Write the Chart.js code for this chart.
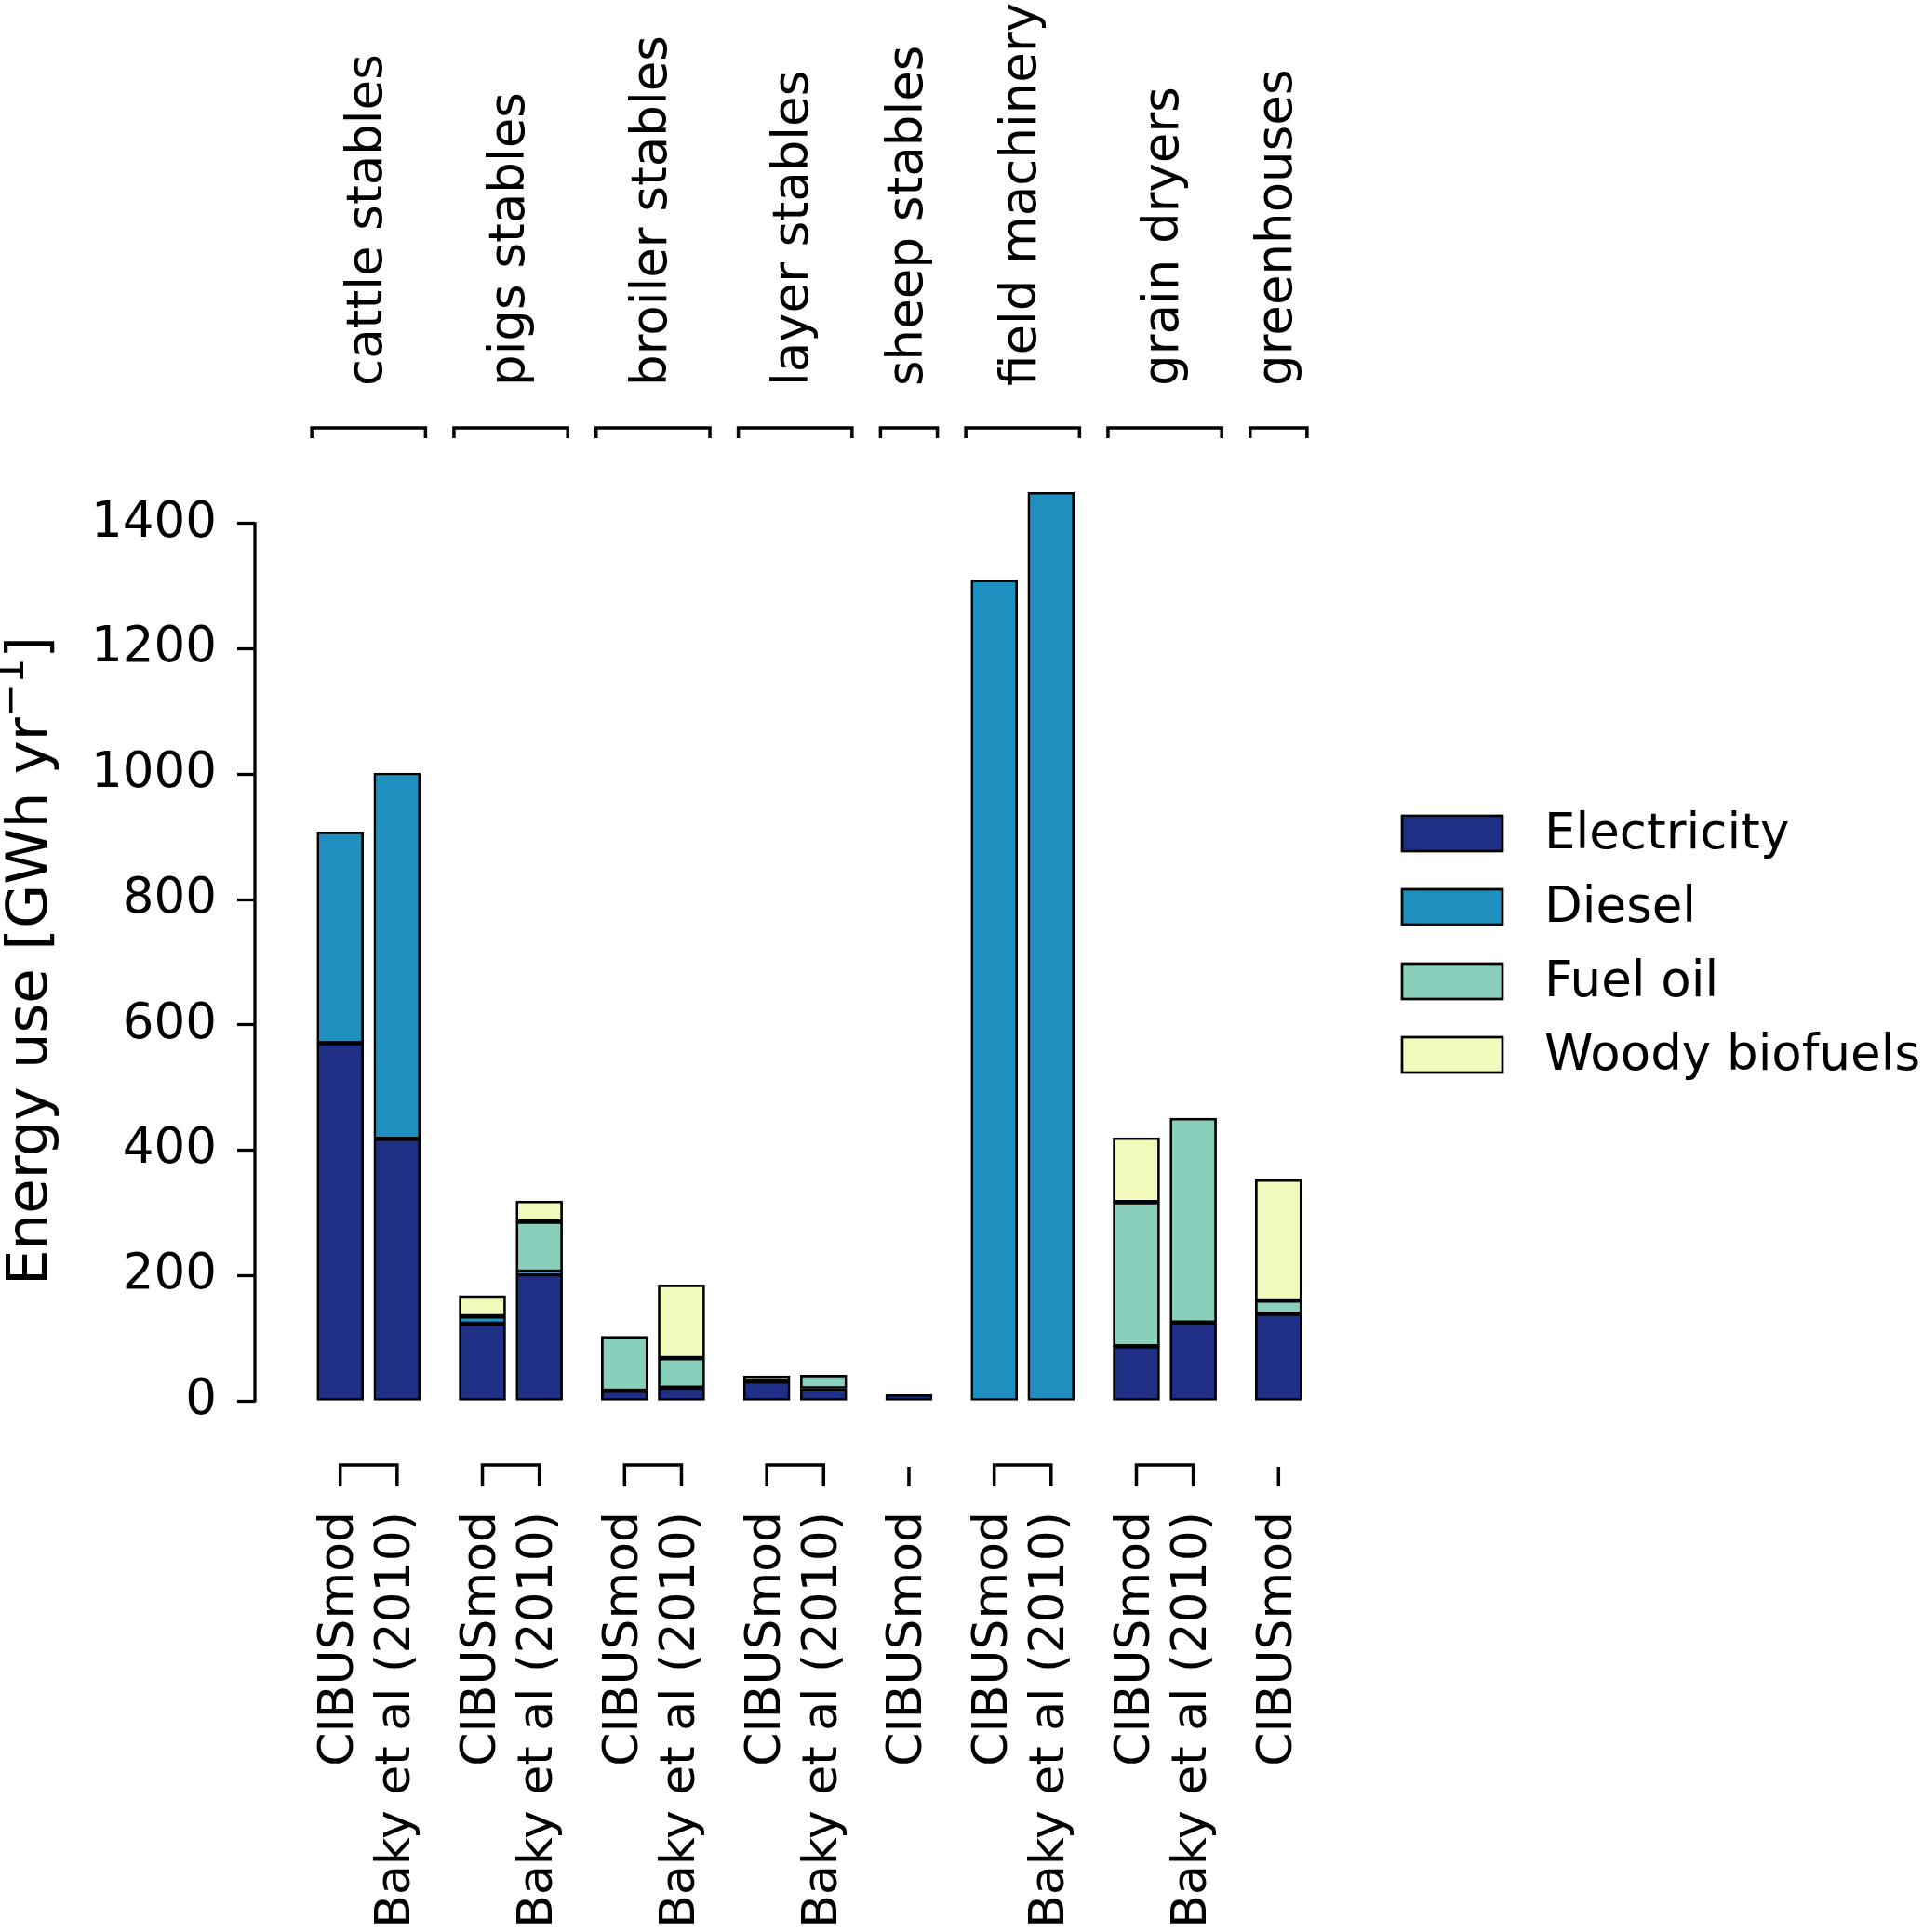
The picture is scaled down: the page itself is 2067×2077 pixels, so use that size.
<!DOCTYPE html>
<html>
<head>
<meta charset="utf-8">
<script src="https://cdn.jsdelivr.net/npm/chart.js@4.4.0/dist/chart.umd.min.js"></script>
<style>
    html, body { margin: 0; padding: 0; background: #ffffff; }
    #wrap { width: 2067px; height: 2077px; position: relative; }
</style>
</head>
<body>
<div id="wrap"><canvas id="energyChart"></canvas></div>
<script>
// categories (top labels)
const groups = ['cattle stables', 'pigs stables', 'broiler stables', 'layer stables',
                'sheep stables', 'field machinery', 'grain dryers', 'greenhouses'];
// which category each bar belongs to, and its source (bottom labels)
const barGroup = [0, 0, 1, 1, 2, 2, 3, 3, 4, 5, 5, 6, 6, 7];
const barSource = ['CIBUSmod', 'Baky et al (2010)', 'CIBUSmod', 'Baky et al (2010)',
                   'CIBUSmod', 'Baky et al (2010)', 'CIBUSmod', 'Baky et al (2010)',
                   'CIBUSmod', 'CIBUSmod', 'Baky et al (2010)', 'CIBUSmod',
                   'Baky et al (2010)', 'CIBUSmod'];

// energy use per fuel, GWh/yr
const fuels = ['Electricity', 'Diesel', 'Fuel oil', 'Woody biofuels'];
const electricity = [571, 418, 123, 202, 16, 21, 31, 20, 10, 0, 0, 87, 125, 139];
const diesel      = [337, 584, 12, 4, 0, 0, 0, 0, 0, 1310, 1450, 0, 0, 0];
const fuelOil     = [0, 0, 0, 80, 87, 47, 0, 21, 0, 0, 0, 230, 326, 21];
const woody       = [0, 0, 33, 33, 0, 117, 9, 0, 0, 0, 0, 103, 0, 193];
const fuelColors  = ['#202f86', '#1e8fbe', '#88d0bb', '#f1f9bb'];

const yTicks = [0, 200, 400, 600, 800, 1000, 1200, 1400];

const FONT = "'DejaVu Sans', 'Noto Sans', sans-serif";

// bars in one category sit next to each other, an extra half slot between categories
function barPositions() {
    const pos = [];
    let x = 0;
    for (let i = 0; i < barGroup.length; i++) {
        if (i > 0) x += (barGroup[i] === barGroup[i - 1]) ? 1 : 1.5;
        pos.push(x);
    }
    return pos;
}

const positions = barPositions();
const series = [electricity, diesel, fuelOil, woody];

const datasets = fuels.map(function(name, k) {
    return {
        label: name,
        data: series[k].map(function(v, i) { return { x: positions[i], y: v }; }),
        backgroundColor: fuelColors[k],
        borderColor: '#000000',
        borderWidth: 2.7,
        borderSkipped: false,
        barThickness: 50
    };
});

// spine, brackets, rotated labels, y title and legend
const decorations = {
    id: 'decorations',
    afterDraw: function(chart) {
        const ctx = chart.ctx;
        const xs = chart.scales.x;
        const ys = chart.scales.y;
        const left = chart.chartArea.left;
        ctx.save();
        ctx.strokeStyle = '#000';
        ctx.fillStyle = '#000';

        // y spine only from 0 to the last tick
        ctx.lineWidth = 3.3;
        ctx.beginPath();
        ctx.moveTo(left, ys.getPixelForValue(yTicks[yTicks.length - 1]) - 1.6);
        ctx.lineTo(left, ys.getPixelForValue(0) + 1.6);
        ctx.stroke();

        // top brackets and category labels
        const half = 0.5;
        const topLine = 460, topTick = 471, topText = 415;
        ctx.font = '53px ' + FONT;
        groups.forEach(function(name, g) {
            const idx = [];
            barGroup.forEach(function(gg, i) { if (gg === g) idx.push(i); });
            const x0 = xs.getPixelForValue(positions[idx[0]] - half);
            const x1 = xs.getPixelForValue(positions[idx[idx.length - 1]] + half);
            ctx.lineWidth = 3.5;
            ctx.beginPath();
            ctx.moveTo(x0, topTick);
            ctx.lineTo(x0, topLine);
            ctx.lineTo(x1, topLine);
            ctx.lineTo(x1, topTick);
            ctx.stroke();

            ctx.save();
            ctx.translate((x0 + x1) / 2, topText);
            ctx.rotate(-Math.PI / 2);
            ctx.textAlign = 'left';
            ctx.textBaseline = 'middle';
            ctx.fillText(name, 0, 0);
            ctx.restore();

            // bottom bracket joins the bar centres
            const c0 = xs.getPixelForValue(positions[idx[0]]);
            const c1 = xs.getPixelForValue(positions[idx[idx.length - 1]]);
            ctx.beginPath();
            if (idx.length > 1) {
                ctx.moveTo(c0, 1598);
                ctx.lineTo(c0, 1575);
                ctx.lineTo(c1, 1575);
                ctx.lineTo(c1, 1598);
            } else {
                ctx.moveTo(c0, 1598);
                ctx.lineTo(c0, 1577);
            }
            ctx.stroke();
        });

        // source labels under each bar
        ctx.font = '52px ' + FONT;
        barSource.forEach(function(src, i) {
            ctx.save();
            ctx.translate(xs.getPixelForValue(positions[i]), 1625);
            ctx.rotate(-Math.PI / 2);
            ctx.textAlign = 'right';
            ctx.textBaseline = 'middle';
            ctx.fillText(src, 0, 0);
            ctx.restore();
        });

        // y axis title with superscript
        ctx.save();
        ctx.translate(34, 1033);
        ctx.rotate(-Math.PI / 2);
        ctx.textBaseline = 'middle';
        const main = 'Energy use [GWh yr';
        const sup = '\u22121';
        ctx.font = '61px ' + FONT;
        const wMain = ctx.measureText(main).width;
        const wEnd = ctx.measureText(']').width;
        ctx.font = '43px ' + FONT;
        const wSup = ctx.measureText(sup).width;
        let tx = -(wMain + wSup + wEnd) / 2;
        ctx.font = '61px ' + FONT;
        ctx.fillText(main, tx, 0);
        ctx.font = '43px ' + FONT;
        ctx.fillText(sup, tx + wMain, -20);
        ctx.font = '61px ' + FONT;
        ctx.fillText(']', tx + wMain + wSup, 0);
        ctx.restore();

        // legend
        const lx = 1507, lw = 108, lh = 38;
        const rows = [896, 975, 1055, 1134];
        ctx.font = '53px ' + FONT;
        ctx.textBaseline = 'middle';
        ctx.textAlign = 'left';
        fuels.forEach(function(name, k) {
            ctx.fillStyle = fuelColors[k];
            ctx.fillRect(lx, rows[k] - lh / 2, lw, lh);
            ctx.lineWidth = 2.7;
            ctx.strokeStyle = '#000';
            ctx.strokeRect(lx, rows[k] - lh / 2, lw, lh);
            ctx.fillStyle = '#000';
            ctx.fillText(name, 1660, rows[k] + 2);
        });

        ctx.restore();
    }
};

function initChart() {
    const ctx = document.getElementById('energyChart').getContext('2d');
    return new Chart(ctx, {
        type: 'bar',
        data: { datasets: datasets },
        options: {
            responsive: true,
            maintainAspectRatio: false,
            animation: false,
            layout: { padding: { left: 0, top: 509, bottom: 571, right: 601 } },
            plugins: {
                legend: { display: false },
                tooltip: { enabled: false }
            },
            scales: {
                x: {
                    type: 'linear',
                    stacked: true,
                    display: false,
                    offset: false,
                    min: -1.5,
                    max: 18
                },
                y: {
                    stacked: true,
                    min: 0,
                    max: 1480,
                    border: { display: false },
                    grid: {
                        drawOnChartArea: false,
                        drawTicks: true,
                        tickLength: 19,
                        tickWidth: 3.3,
                        tickColor: '#000'
                    },
                    ticks: {
                        stepSize: 200,
                        padding: 22,
                        color: '#000',
                        font: { family: FONT, size: 53 },
                        callback: function(value) { return String(value); }
                    },
                    afterBuildTicks: function(scale) {
                        scale.ticks = yTicks.map(function(v) { return { value: v }; });
                    },
                    afterFit: function(scale) {
                        scale.width = 274;
                    }
                }
            }
        },
        plugins: [decorations]
    });
}

document.addEventListener('DOMContentLoaded', function() {
    initChart();
});
</script>
</body>
</html>
